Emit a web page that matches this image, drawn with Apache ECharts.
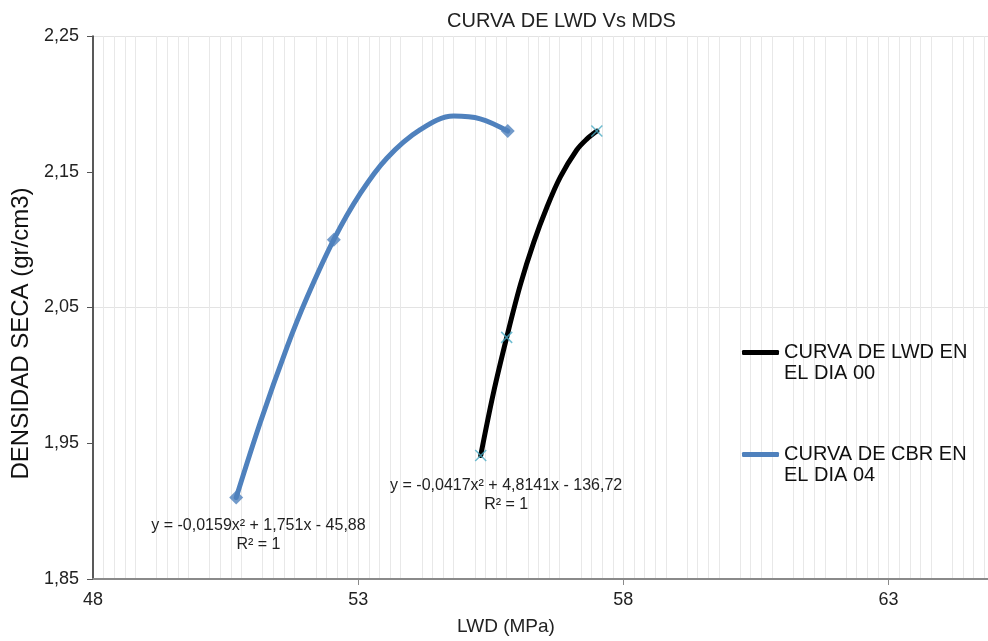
<!DOCTYPE html>
<html>
<head>
<meta charset="utf-8">
<script src="https://cdn.jsdelivr.net/npm/echarts@6/dist/echarts.min.js"></script>
<style>
    html, body { margin: 0; padding: 0; background: #fff; }
    #chart { width: 988px; height: 641px; }
</style>
</head>
<body>
<div id="chart"></div>
<script>
// axis ticks
const xTicks = [48, 53, 58, 63]
const yTicks = [1.85, 1.95, 2.05, 2.15, 2.25]

const lwdX = [55.31, 55.80, 57.50]
const lwdY = [1.941, 2.028, 2.180]
const lwdCurveX = [55.31, 55.55, 55.80, 56.06, 56.31, 56.56, 56.81, 57.12, 57.31, 57.50]
const lwdCurveY = [1.941, 1.987, 2.028, 2.067, 2.098, 2.124, 2.146, 2.166, 2.174, 2.180]

// CBR dia 04 (blue)
const cbrX = [50.70, 52.54, 55.82]
const cbrY = [1.910, 2.100, 2.180]
const cbrCurveX = [50.70, 51.16, 51.66, 52.03, 52.54, 53.04, 53.54, 54.17, 54.80, 55.30, 55.82]
const cbrCurveY = [1.910, 1.966, 2.021, 2.057, 2.100, 2.134, 2.160, 2.181, 2.191, 2.189, 2.180]

const lwdName = 'CURVA DE LWD EN EL DIA 00'
const cbrName = 'CURVA DE CBR EN EL DIA 04'
const lwdEq = 'y = -0,0417x² + 4,8141x - 136,72\nR² = 1'
const cbrEq = 'y = -0,0159x² + 1,751x - 45,88\nR² = 1'

const zip = (xs, ys) => xs.map((x, i) => [x, ys[i]])
const comma = v => v.toFixed(2).replace('.', ',')

const chart = echarts.init(document.getElementById('chart'))
chart.setOption({
    animation: false,
    title: {
        text: 'CURVA DE LWD Vs MDS',
        left: 442,
        top: 6,
        textStyle: {
            fontFamily: 'Liberation Sans',
            fontSize: 20,
            fontWeight: 'normal',
            color: '#222',
        },
    },
    legend: {
        orient: 'vertical',
        left: 742,
        top: 321,
        padding: 0,
        itemGap: 39,
        itemWidth: 37,
        itemHeight: 5,
        icon: 'roundRect',
        data: [lwdName, cbrName],
        // empty first line so the icon lines up with the first text line
        formatter: name => '\n' + name.replace(' EN ', ' EN\n'),
        textStyle: {
            fontFamily: 'Liberation Sans',
            fontSize: 20,
            lineHeight: 21,
            color: '#111',
        },
    },
    grid: {
        left: 93,
        right: 0,
        top: 36,
        bottom: 61,
    },
    xAxis: {
        type: 'value',
        min: 48,
        max: 64.875,
        interval: 1,
        name: 'LWD (MPa)',
        nameLocation: 'middle',
        nameGap: 38,
        nameTextStyle: {
            fontFamily: 'Liberation Sans',
            fontSize: 19,
            color: '#222',
            padding: [0, 69, 0, 0],
        },
        axisLine: { onZero: false, lineStyle: { color: '#8a8a8a', width: 2 } },
        axisTick: { customValues: xTicks.slice(1), length: 6, lineStyle: { color: '#8a8a8a' } },
        axisLabel: {
            customValues: xTicks,
            margin: 12,
            fontFamily: 'Liberation Sans',
            fontSize: 18,
            color: '#222',
        },
        splitLine: { show: true, lineStyle: { color: '#e8e8e8' } },
        minorTick: { show: false, splitNumber: 5 },
        minorSplitLine: { show: true, lineStyle: { color: '#e8e8e8' } },
    },
    yAxis: {
        type: 'value',
        min: 1.85,
        max: 2.25,
        interval: 0.05,
        name: 'DENSIDAD SECA (gr/cm3)',
        nameLocation: 'middle',
        nameGap: 58,
        nameTextStyle: {
            fontFamily: 'Liberation Sans',
            fontSize: 24,
            color: '#111',
            padding: [0, 52, 0, 0],
        },
        axisLine: { show: true, onZero: false, lineStyle: { color: '#222', width: 1.5 } },
        axisTick: { show: true, customValues: yTicks, length: 6, lineStyle: { color: '#555' } },
        axisLabel: {
            customValues: yTicks,
            formatter: comma,
            margin: 14,
            fontFamily: 'Liberation Sans',
            fontSize: 18,
            color: '#222',
        },
        splitLine: {
            show: true,
            lineStyle: { color: ['#e3e3e3', 'rgba(0,0,0,0)'] },
        },
    },
    series: [
        {
            name: lwdName,
            type: 'line',
            smooth: 0.35,
            symbol: 'none',
            lineStyle: { color: '#000', width: 5, cap: 'round' },
            itemStyle: { color: '#000' },
            data: zip(lwdCurveX, lwdCurveY),
            markPoint: {
                symbol: 'circle',
                symbolSize: 0,
                label: {
                    show: true,
                    formatter: lwdEq,
                    fontFamily: 'Liberation Sans',
                    fontSize: 16,
                    lineHeight: 19,
                    color: '#222',
                    align: 'center',
                },
                data: [{ coord: [55.79, 1.912] }],
            },
            z: 2,
        },
        {
            name: cbrName,
            type: 'line',
            smooth: 0.35,
            symbol: 'none',
            lineStyle: { color: '#4f81bd', width: 5, cap: 'round' },
            itemStyle: { color: '#4f81bd' },
            data: zip(cbrCurveX, cbrCurveY),
            markPoint: {
                symbol: 'circle',
                symbolSize: 0,
                label: {
                    show: true,
                    formatter: cbrEq,
                    fontFamily: 'Liberation Sans',
                    fontSize: 16,
                    lineHeight: 19,
                    color: '#222',
                    align: 'center',
                },
                data: [{ coord: [51.12, 1.882] }],
            },
            z: 2,
        },
        {
            name: 'puntos LWD',
            type: 'scatter',
            symbol: 'path://M0,0L10,10M10,0L0,10',
            symbolSize: 11,
            itemStyle: { color: 'none', borderColor: '#4bacc6', borderWidth: 1.5 },
            data: zip(lwdX, lwdY),
            z: 3,
        },
        {
            name: 'puntos CBR',
            type: 'scatter',
            symbol: 'diamond',
            symbolSize: 14,
            itemStyle: { color: '#4f81bd' },
            data: zip(cbrX, cbrY),
            z: 3,
        },
    ],
})
</script>
</body>
</html>
